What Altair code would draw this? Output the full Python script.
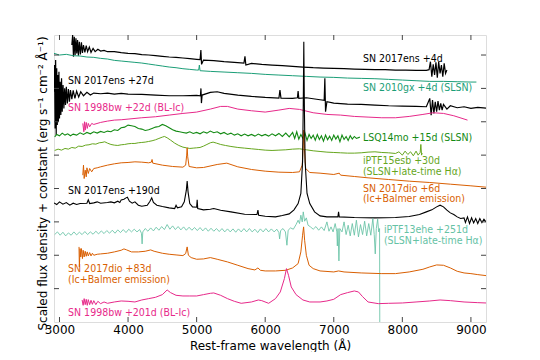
import altair as alt
import pandas as pd

# ---------------- data (wavelength in Angstrom, scaled flux + offset) ----------------
ens4 = [(3180, 8.3), (3192, 8.6), (3204, 7.95), (3216, 8.55), (3228, 8.0), (3240, 8.5), (3252, 8.05),
        (3264, 8.45), (3276, 7.98), (3290, 8.4), (3305, 8.02), (3320, 8.38), (3335, 8.06), (3350, 8.3),
        (3370, 8.08), (3390, 8.28), (3410, 8.1), (3435, 8.24), (3460, 8.08), (3490, 8.2), (3520, 8.1),
        (3560, 8.17), (3600, 8.12), (3650, 8.14), (3700, 8.1), (3800, 8.1), (3900, 8.07), (4000, 8.05),
        (4100, 8.04), (4200, 8.01), (4300, 8.0), (4400, 7.98), (4500, 7.96), (4600, 7.94), (4700, 7.93),
        (4800, 7.91), (4900, 7.89), (5000, 7.87), (5050, 7.86), (5062, 8.15), (5072, 7.72), (5100, 7.85),
        (5250, 7.83), (5400, 7.8), (5550, 7.78), (5690, 7.76), (5705, 7.96), (5718, 7.7), (5800, 7.75),
        (5950, 7.72), (6100, 7.7), (6250, 7.68), (6400, 7.66), (6550, 7.64), (6700, 7.62), (6850, 7.61),
        (7000, 7.6), (7150, 7.59), (7300, 7.58), (7450, 7.57), (7600, 7.56), (7750, 7.56), (7900, 7.55),
        (8050, 7.55), (8200, 7.54), (8350, 7.54), (8390, 7.56), (8410, 7.8), (8430, 7.35), (8450, 7.72),
        (8470, 7.4), (8490, 7.78), (8510, 7.32), (8530, 7.8), (8550, 7.45), (8570, 7.7), (8590, 7.35),
        (8610, 7.75), (8630, 7.45), (8650, 7.55)]

gx = [(2920, 8.05), (3000, 8.0), (3100, 8.02), (3200, 7.98), (3300, 7.97), (3400, 7.94), (3500, 7.93),
      (3600, 7.9), (3700, 7.88), (3800, 7.84), (3900, 7.82), (4000, 7.8), (4100, 7.78), (4200, 7.76),
      (4300, 7.73), (4400, 7.7), (4500, 7.67), (4600, 7.64), (4700, 7.62), (4800, 7.59), (4900, 7.57),
      (5000, 7.55), (5030, 7.55), (5040, 7.7), (5050, 7.53), (5200, 7.51), (5400, 7.49), (5600, 7.47),
      (5800, 7.45), (6000, 7.42), (6200, 7.4), (6400, 7.38), (6600, 7.36), (6800, 7.34), (7000, 7.33),
      (7200, 7.31), (7400, 7.3), (7600, 7.29), (7800, 7.27), (8000, 7.25), (8200, 7.23), (8400, 7.21),
      (8600, 7.21), (8800, 7.2), (9000, 7.19), (9080, 7.19)]

ens27 = [(2920, 6.9), (2928, 7.7), (2936, 5.8), (2944, 7.85), (2952, 5.6), (2960, 7.6), (2968, 5.9),
         (2976, 7.4), (2984, 6.0), (2992, 7.5), (3000, 6.1), (3010, 7.2), (3020, 6.2), (3030, 7.3),
         (3040, 6.3), (3052, 7.1), (3064, 6.4), (3076, 7.0), (3088, 6.5), (3100, 7.05), (3115, 6.55),
         (3130, 6.98), (3145, 6.6), (3160, 6.95), (3180, 6.68), (3200, 6.94), (3225, 6.7), (3250, 6.92),
         (3280, 6.74), (3310, 6.9), (3350, 6.78), (3400, 6.88), (3450, 6.8), (3500, 6.86), (3600, 6.84),
         (3700, 6.86), (3800, 6.83), (3900, 6.85), (4000, 6.83), (4200, 6.82), (4400, 6.8), (4600, 6.78),
         (4800, 6.78), (5000, 6.79), (5055, 6.78), (5063, 7.0), (5070, 6.56), (5080, 6.8), (5200, 6.88),
         (5300, 6.9), (5400, 6.85), (5600, 6.8), (5800, 6.76), (6000, 6.73), (6200, 6.71), (6215, 6.95),
         (6230, 6.71), (6400, 6.7), (6470, 6.72), (6480, 6.92), (6490, 6.7), (6600, 6.72), (6800, 6.66),
         (6860, 6.64), (6870, 7.3), (6880, 6.3), (6900, 6.6), (7000, 6.56), (7200, 6.53), (7400, 6.52),
         (7600, 6.5), (7800, 6.48), (8000, 6.47), (8200, 6.46), (8350, 6.45), (8400, 6.7), (8420, 6.2),
         (8440, 6.65), (8460, 6.25), (8480, 6.6), (8500, 6.3), (8520, 6.62), (8540, 6.35), (8560, 6.55),
         (8580, 6.35), (8600, 6.52), (8650, 6.38), (8700, 6.48), (8800, 6.42), (8900, 6.45), (9000, 6.4),
         (9100, 6.43), (9220, 6.41)]

bw22 = [(3340, 5.95), (3355, 5.7), (3365, 6.0), (3375, 5.75), (3390, 5.98), (3405, 5.8), (3420, 5.95),
        (3440, 5.85), (3470, 5.95), (3500, 5.92), (3600, 5.98), (3700, 6.02), (3800, 6.05), (3900, 6.06),
        (4000, 6.08), (4200, 6.12), (4400, 6.15), (4600, 6.2), (4800, 6.25), (5000, 6.29), (5200, 6.38),
        (5350, 6.46), (5450, 6.46), (5600, 6.38), (5800, 6.33), (6000, 6.29), (6200, 6.35), (6350, 6.4),
        (6500, 6.37), (6700, 6.27), (6900, 6.22), (7100, 6.2), (7300, 6.16), (7500, 6.14), (7700, 6.12),
        (7900, 6.12), (8100, 6.16), (8300, 6.22), (8450, 6.27), (8600, 6.25), (8750, 6.18), (8950, 6.05)]

lsq = [(2930, 5.55), (2960, 5.62), (3000, 5.58), (3040, 5.66), (3080, 5.6), (3120, 5.64), (3160, 5.58),
       (3200, 5.63), (3250, 5.6), (3300, 5.67), (3350, 5.62), (3400, 5.68), (3450, 5.64), (3500, 5.7),
       (3550, 5.66), (3600, 5.71), (3650, 5.68), (3700, 5.72), (3750, 5.7), (3800, 5.76), (3850, 5.74),
       (3900, 5.82), (3950, 5.84), (4000, 5.9), (4050, 5.88), (4100, 5.86), (4150, 5.8), (4200, 5.78),
       (4250, 5.74), (4300, 5.76), (4350, 5.8), (4400, 5.84), (4450, 5.86), (4500, 5.92), (4550, 5.88),
       (4600, 5.82), (4650, 5.76), (4700, 5.72), (4750, 5.7), (4800, 5.68), (4850, 5.66), (4900, 5.7),
       (4950, 5.65), (5000, 5.68), (5050, 5.64), (5100, 5.7), (5150, 5.66), (5200, 5.72), (5250, 5.67),
       (5300, 5.7), (5350, 5.64), (5400, 5.68), (5450, 5.62), (5500, 5.66), (5550, 5.6), (5600, 5.64),
       (5650, 5.58), (5700, 5.63), (5750, 5.58), (5800, 5.62), (5850, 5.57), (5900, 5.63), (5950, 5.58),
       (6000, 5.62), (6050, 5.57), (6100, 5.64), (6150, 5.58), (6200, 5.65), (6250, 5.56), (6300, 5.66),
       (6350, 5.55), (6400, 5.68), (6430, 5.5), (6460, 5.7), (6490, 5.48), (6520, 5.62), (6550, 5.5),
       (6580, 5.66), (6610, 5.44), (6640, 5.62), (6670, 5.5), (6700, 5.6), (6730, 5.45), (6760, 5.62),
       (6790, 5.47), (6820, 5.58), (6850, 5.42), (6880, 5.6), (6910, 5.46), (6940, 5.57), (6970, 5.44),
       (7000, 5.6), (7030, 5.48), (7060, 5.58), (7090, 5.4), (7120, 5.6), (7150, 5.47), (7180, 5.56),
       (7210, 5.44), (7240, 5.58), (7270, 5.48), (7300, 5.56), (7330, 5.5), (7380, 5.54)]

esb = [(2930, 5.14), (2980, 5.18), (3030, 5.15), (3080, 5.2), (3130, 5.18), (3180, 5.23), (3230, 5.21),
       (3280, 5.27), (3330, 5.26), (3380, 5.3), (3430, 5.31), (3480, 5.34), (3530, 5.33), (3580, 5.37),
       (3620, 5.38), (3660, 5.4), (3700, 5.36), (3750, 5.32), (3800, 5.3), (3850, 5.29), (3900, 5.31),
       (3950, 5.32), (4000, 5.34), (4050, 5.35), (4100, 5.35), (4150, 5.37), (4200, 5.38), (4250, 5.39),
       (4300, 5.41), (4350, 5.43), (4400, 5.46), (4450, 5.5), (4500, 5.54), (4530, 5.56), (4570, 5.52),
       (4620, 5.45), (4680, 5.36), (4740, 5.29), (4800, 5.24), (4850, 5.22), (4900, 5.2), (4950, 5.21),
       (5000, 5.22), (5050, 5.23), (5100, 5.27), (5150, 5.32), (5200, 5.37), (5240, 5.39), (5290, 5.36),
       (5350, 5.32), (5420, 5.29), (5500, 5.26), (5600, 5.23), (5700, 5.21), (5800, 5.19), (5900, 5.17),
       (6000, 5.15), (6100, 5.14), (6200, 5.15), (6300, 5.16), (6400, 5.18), (6500, 5.19), (6600, 5.16),
       (6700, 5.13), (6800, 5.11), (6900, 5.09), (7000, 5.08), (7100, 5.07), (7200, 5.06), (7300, 5.06),
       (7400, 5.07), (7500, 5.09), (7600, 5.1), (7700, 5.08), (7800, 5.07), (7900, 5.05), (7950, 5.1),
       (8000, 5.0), (8040, 5.12), (8080, 5.02), (8120, 5.1), (8160, 4.98), (8200, 5.12), (8230, 5.0),
       (8260, 5.08), (8270, 5.32), (8280, 5.0), (8290, 5.06)]

dio6 = [(3340, 4.4), (3350, 4.7), (3360, 4.3), (3375, 4.55), (3390, 4.35), (3400, 4.62), (3420, 4.45),
        (3440, 4.6), (3470, 4.5), (3500, 4.6), (3550, 4.62), (3600, 4.65), (3700, 4.7), (3800, 4.74),
        (3900, 4.77), (4000, 4.78), (4100, 4.8), (4200, 4.79), (4300, 4.77), (4340, 4.79), (4350, 4.87),
        (4360, 4.76), (4500, 4.7), (4650, 4.66), (4800, 4.64), (4840, 4.7), (4855, 5.0), (4862, 5.22),
        (4870, 4.95), (4890, 4.66), (5000, 4.62), (5100, 4.63), (5300, 4.72), (5440, 4.76), (5600, 4.65),
        (5800, 4.57), (6000, 4.52), (6200, 4.49), (6400, 4.48), (6500, 4.5), (6540, 4.7), (6555, 5.3),
        (6563, 5.75), (6572, 5.2), (6590, 4.6), (6650, 4.48), (6800, 4.46), (7000, 4.42), (7080, 4.46),
        (7100, 4.4), (7300, 4.36), (7500, 4.32), (7800, 4.27), (8100, 4.22), (8400, 4.18), (8700, 4.13),
        (9000, 4.08), (9220, 4.04)]

ens190 = [(2920, 3.57), (2960, 3.52), (3000, 3.6), (3050, 3.53), (3100, 3.58), (3150, 3.5), (3200, 3.56),
          (3250, 3.52), (3300, 3.55), (3400, 3.56), (3420, 3.66), (3440, 3.55), (3500, 3.57), (3550, 3.6),
          (3600, 3.56), (3700, 3.58), (3750, 3.6), (3800, 3.57), (3850, 3.62), (3880, 3.58), (3900, 3.66),
          (3940, 3.68), (3970, 3.72), (3990, 3.74), (4020, 3.62), (4060, 3.56), (4100, 3.6), (4150, 3.5),
          (4200, 3.47), (4280, 3.5), (4320, 3.62), (4345, 3.72), (4370, 3.58), (4420, 3.5), (4500, 3.46),
          (4600, 3.42), (4680, 3.4), (4700, 3.5), (4720, 3.42), (4780, 3.45), (4820, 3.6), (4850, 3.95),
          (4862, 4.22), (4875, 3.9), (4900, 3.55), (4940, 3.45), (5000, 3.44), (5008, 3.66), (5016, 3.4),
          (5100, 3.36), (5200, 3.38), (5250, 3.4), (5350, 3.35), (5500, 3.3), (5700, 3.23), (5880, 3.22),
          (5894, 3.35), (5905, 3.2), (6000, 3.17), (6150, 3.15), (6250, 3.19), (6350, 3.24), (6420, 3.36),
          (6480, 3.55), (6520, 3.85), (6545, 4.8), (6555, 6.5), (6563, 8.4), (6571, 6.5), (6582, 4.8),
          (6610, 3.85), (6650, 3.55), (6720, 3.3), (6800, 3.18), (6900, 3.15), (7000, 3.15), (7060, 3.15),
          (7070, 3.3), (7080, 3.15), (7300, 3.13), (7600, 3.12), (7900, 3.13), (8100, 3.16), (8250, 3.22),
          (8350, 3.3), (8430, 3.36), (8500, 3.45), (8550, 3.5), (8600, 3.45), (8650, 3.35), (8700, 3.27),
          (8750, 3.22), (8800, 3.15), (8850, 3.1), (8900, 3.12), (8920, 2.98), (8950, 3.15), (8980, 2.95),
          (9010, 3.12), (9040, 2.97), (9070, 3.1), (9100, 2.95), (9130, 3.1), (9160, 2.98), (9190, 3.08),
          (9220, 3.0)]

ehe = [(2930, 2.62), (2970, 2.7), (3010, 2.6), (3050, 2.69), (3090, 2.58), (3130, 2.67), (3170, 2.6),
       (3210, 2.7), (3250, 2.61), (3290, 2.69), (3330, 2.62), (3370, 2.71), (3410, 2.62), (3450, 2.7),
       (3490, 2.63), (3530, 2.72), (3570, 2.64), (3610, 2.73), (3650, 2.65), (3690, 2.74), (3730, 2.66),
       (3770, 2.75), (3810, 2.66), (3850, 2.76), (3890, 2.68), (3930, 2.77), (3970, 2.68), (4010, 2.78),
       (4050, 2.7), (4090, 2.78), (4130, 2.7), (4170, 2.77), (4195, 2.66), (4205, 2.34), (4215, 2.7),
       (4250, 2.8), (4290, 2.72), (4330, 2.82), (4370, 2.73), (4410, 2.84), (4450, 2.75), (4490, 2.86),
       (4530, 2.77), (4570, 2.92), (4610, 2.78), (4650, 2.88), (4690, 2.77), (4730, 2.86), (4770, 2.76),
       (4810, 2.85), (4850, 2.75), (4890, 2.84), (4930, 2.75), (4970, 2.83), (5010, 2.74), (5050, 2.83),
       (5090, 2.73), (5130, 2.82), (5170, 2.72), (5210, 2.81), (5250, 2.72), (5290, 2.8), (5330, 2.71),
       (5370, 2.8), (5410, 2.7), (5450, 2.79), (5490, 2.7), (5530, 2.79), (5570, 2.69), (5610, 2.79),
       (5650, 2.7), (5690, 2.8), (5730, 2.7), (5770, 2.8), (5810, 2.7), (5850, 2.78), (5890, 2.68),
       (5930, 2.79), (5970, 2.7), (6010, 2.8), (6050, 2.7), (6090, 2.79), (6130, 2.7), (6170, 2.78),
       (6200, 2.68), (6210, 2.49), (6225, 2.74), (6260, 2.8), (6295, 2.7), (6317, 2.3), (6335, 2.75),
       (6370, 2.82), (6410, 2.78), (6450, 2.92), (6480, 3.05), (6500, 2.95), (6520, 3.2), (6540, 3.0),
       (6555, 3.3), (6575, 3.02), (6600, 3.12), (6625, 2.9), (6660, 2.85), (6700, 2.78), (6740, 2.86),
       (6780, 2.75), (6820, 2.85), (6860, 2.74), (6900, 3.0), (6930, 2.72), (6960, 2.85), (6990, 2.7),
       (7020, 2.95), (7045, 2.7), (7052, 2.28), (7062, 2.8), (7075, 1.83), (7088, 2.8), (7120, 2.7),
       (7150, 3.0), (7180, 2.62), (7210, 2.9), (7240, 2.58), (7270, 2.95), (7300, 2.6), (7330, 3.05),
       (7360, 2.55), (7390, 2.92), (7420, 2.62), (7450, 3.02), (7480, 2.58), (7510, 2.95), (7540, 2.6),
       (7570, 3.1), (7590, 2.62), (7605, 2.04), (7620, 2.8), (7640, 3.08), (7655, 2.7), (7668, 2.8),
       (7672, -1.0)]

dio83 = [(3285, 2.25), (3290, 1.65), (3300, 2.2), (3310, 1.95), (3320, 2.2), (3335, 1.9), (3345, 2.15),
         (3360, 1.95), (3375, 2.12), (3390, 1.97), (3405, 2.1), (3420, 1.98), (3440, 2.08), (3460, 1.98),
         (3480, 2.06), (3500, 2.0), (3550, 2.03), (3600, 2.04), (3700, 2.06), (3800, 2.1), (3900, 2.15),
         (3940, 2.19), (3980, 2.16), (4050, 2.1), (4150, 2.1), (4250, 2.12), (4330, 2.16), (4380, 2.12),
         (4500, 2.06), (4600, 2.03), (4700, 2.01), (4800, 1.99), (4840, 2.05), (4862, 2.25), (4880, 2.0),
         (4920, 1.93), (5000, 1.88), (5100, 1.89), (5200, 1.93), (5300, 1.88), (5450, 1.8), (5600, 1.7),
         (5750, 1.6), (5850, 1.56), (5894, 1.62), (5930, 1.55), (6000, 1.53), (6150, 1.53), (6300, 1.55),
         (6400, 1.62), (6480, 1.75), (6520, 2.1), (6545, 2.6), (6560, 2.85), (6575, 2.45), (6600, 2.0),
         (6640, 1.7), (6700, 1.6), (6800, 1.53), (7000, 1.5), (7070, 1.53), (7150, 1.5), (7400, 1.47),
         (7700, 1.45), (7900, 1.45), (8100, 1.5), (8300, 1.58), (8400, 1.65), (8500, 1.71), (8600, 1.7),
         (8700, 1.62), (8800, 1.52), (8900, 1.47), (9000, 1.45), (9100, 1.42), (9220, 1.39)]

bw201 = [(3330, 0.66), (3345, 0.5), (3360, 0.7), (3375, 0.52), (3390, 0.68), (3405, 0.5), (3420, 0.67),
         (3440, 0.52), (3460, 0.65), (3480, 0.53), (3500, 0.64), (3530, 0.52), (3560, 0.62), (3600, 0.55),
         (3650, 0.6), (3700, 0.56), (3800, 0.6), (3900, 0.63), (4000, 0.62), (4100, 0.6), (4200, 0.66),
         (4300, 0.7), (4400, 0.74), (4500, 0.82), (4570, 0.96), (4620, 0.88), (4700, 0.8), (4800, 0.78),
         (4900, 0.78), (5000, 0.78), (5100, 0.82), (5200, 0.86), (5250, 0.87), (5350, 0.8), (5450, 0.7),
         (5550, 0.62), (5650, 0.56), (5800, 0.6), (5900, 0.66), (5950, 0.64), (6050, 0.56), (6150, 0.7),
         (6220, 0.9), (6280, 1.3), (6310, 1.6), (6340, 1.4), (6380, 1.05), (6450, 0.82), (6550, 0.66),
         (6650, 0.6), (6800, 0.6), (6900, 0.63), (7000, 0.68), (7100, 0.82), (7200, 0.88), (7300, 0.93),
         (7360, 0.9), (7420, 0.76), (7500, 0.6), (7650, 0.55), (7800, 0.56), (8000, 0.57), (8200, 0.6),
         (8400, 0.63), (8550, 0.66), (8700, 0.64), (8900, 0.6), (9100, 0.58), (9220, 0.57)]

# drawing order (top to bottom of the figure)
series_order = ["ens4", "gx", "ens27", "bw22", "lsq", "esb", "dio6", "ens190", "ehe", "dio83", "bw201"]
series_data = {"ens4": ens4, "gx": gx, "ens27": ens27, "bw22": bw22, "lsq": lsq, "esb": esb,
               "dio6": dio6, "ens190": ens190, "ehe": ehe, "dio83": dio83, "bw201": bw201}

label_text = ["SN 2017ens +4d", "SN 2010gx +4d (SLSN)", "SN 2017ens +27d", "SN 1998bw +22d (BL-Ic)",
              "LSQ14mo +15d (SLSN)", "iPTF15esb +30d", "(SLSN+late-time H\u03b1)", "SN 2017dio +6d",
              "(Ic+Balmer emission)", "SN 2017ens +190d", "iPTF13ehe +251d", "(SLSN+late-time H\u03b1)",
              "SN 2017dio +83d", "(Ic+Balmer emission)", "SN 1998bw +201d (BL-Ic)"]
label_wl = [7425, 7425, 3125, 3125, 7425, 7425, 7425, 7425, 7425, 3125, 7731, 7731, 3125, 3125, 3125]
label_flux = [7.89, 7.0, 7.21, 6.41, 5.52, 4.81, 4.49, 4.0, 3.68, 3.92, 2.755, 2.435, 1.59, 1.27, 0.26]
label_series = ["ens4", "gx", "ens27", "bw22", "lsq", "esb", "esb", "dio6", "dio6", "ens190",
                "ehe", "ehe", "dio83", "dio83", "bw201"]

x_ticks = [3000, 4000, 5000, 6000, 7000, 8000, 9000]
y_ticks = [1, 2, 3, 4, 5, 6, 7, 8]

# ---------------- styles ----------------
COLORS = {"ens4": "#000000", "gx": "#1b9e77", "ens27": "#000000", "bw22": "#e7298a",
          "lsq": "#138a13", "esb": "#66a61e", "dio6": "#d95f02", "ens190": "#000000",
          "ehe": "#66c2a5", "dio83": "#d95f02", "bw201": "#e7298a"}
WIDTHS = {"ens4": 1.2, "ens27": 1.2, "ens190": 1.1, "lsq": 1.1}
FRAME = "#444444"
W, H = 432, 287

xs = alt.Scale(domain=[2920, 9220], nice=False, zero=False)
ys = alt.Scale(domain=[0, 8.6], nice=False, zero=False)

xaxis = alt.Axis(values=x_ticks, format="d", grid=False, ticks=False, domain=False,
                 labelFont="Liberation Sans Narrow, DejaVu Sans", labelFontSize=12, labelColor="black",
                 labelPadding=2, title="Rest-frame wavelength (\u00c5)", titleFont="DejaVu Sans",
                 titleFontSize=12, titleFontWeight="normal", titleColor="black",
                 titleX=W / 2, titleY=27, titleAlign="center", titleBaseline="alphabetic")
yaxis = alt.Axis(values=y_ticks, labels=False, grid=False, ticks=False, domain=False,
                 title="Scaled flux density + constant (erg s\u207b\u00b9 cm\u207b\u00b2 \u00c5\u207b\u00b9)",
                 titleFont="DejaVu Sans", titleFontSize=12, titleFontWeight="normal", titleColor="black",
                 titleX=-12, titleY=148, titleAngle=270, titleAlign="center", titleBaseline="middle")


def X(field):
    return alt.X(field, type="quantitative", scale=xs, axis=xaxis)


def Y(field):
    return alt.Y(field, type="quantitative", scale=ys, axis=yaxis)


layers = []
for key in series_order:
    pts = series_data[key]
    df = pd.DataFrame({"wl": [p[0] for p in pts], "flux": [p[1] for p in pts]})
    op = 0.85 if key == "ehe" else 1.0
    layers.append(
        alt.Chart(df).mark_line(color=COLORS[key], strokeWidth=WIDTHS.get(key, 1.0), opacity=op, clip=True)
        .encode(x=X("wl"), y=Y("flux"))
    )

lab = pd.DataFrame({"text": label_text, "wl": label_wl, "flux": label_flux,
                    "color": [COLORS[s] for s in label_series]})
layers.append(
    alt.Chart(lab).mark_text(align="left", baseline="middle", font="DejaVu Sans Condensed, DejaVu Sans",
                             fontSize=10.5)
    .encode(x=X("wl"), y=Y("flux"), text="text:N", color=alt.Color("color:N", scale=None))
)

xt = pd.DataFrame({"v": x_ticks})
yt = pd.DataFrame({"v": y_ticks})
layers.append(alt.Chart(xt).mark_rule(color=FRAME, strokeWidth=1)
              .encode(x=X("v"), y=alt.value(H), y2=alt.value(H - 5)))
layers.append(alt.Chart(xt).mark_rule(color=FRAME, strokeWidth=1)
              .encode(x=X("v"), y=alt.value(0), y2=alt.value(5)))
layers.append(alt.Chart(yt).mark_rule(color=FRAME, strokeWidth=1)
              .encode(y=Y("v"), x=alt.value(0), x2=alt.value(5)))
layers.append(alt.Chart(yt).mark_rule(color=FRAME, strokeWidth=1)
              .encode(y=Y("v"), x=alt.value(W), x2=alt.value(W - 5)))

chart = (
    alt.layer(*layers)
    .properties(width=W, height=H, autosize=alt.AutoSizeParams(type="none"),
                padding={"left": 46, "top": 27, "right": 40, "bottom": 30})
    .configure_view(stroke=FRAME, strokeWidth=1.5)
    .configure(background="white")
)

chart.save("out.html", embed_options={"renderer": "svg", "actions": False})
